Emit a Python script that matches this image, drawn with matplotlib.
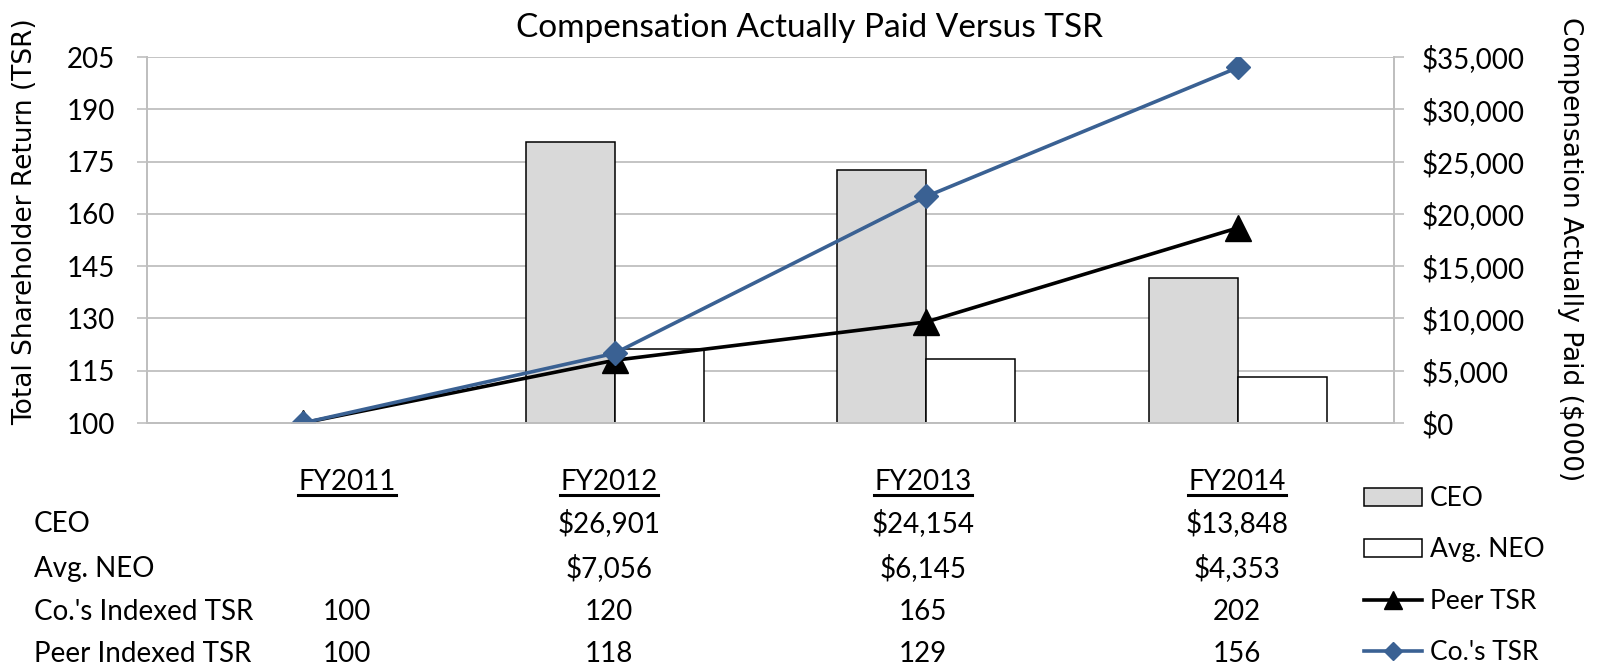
import matplotlib
matplotlib.use("Agg")
import matplotlib.pyplot as plt
import numpy as np
from matplotlib.patches import Patch
from matplotlib.lines import Line2D
from matplotlib.ticker import FuncFormatter

# chart data
years = ["FY2011", "FY2012", "FY2013", "FY2014"]
ceo_pay = [np.nan, 26901, 24154, 13848]
neo_pay = [np.nan, 7056, 6145, 4353]
co_tsr = [100, 120, 165, 202]
peer_tsr = [100, 118, 129, 156]

# table below the chart
table_rows = ["CEO", "Avg. NEO", "Co.'s Indexed TSR", "Peer Indexed TSR"]
table_cells = [
    ["", "$26,901", "$24,154", "$13,848"],
    ["", "$7,056", "$6,145", "$4,353"],
    ["100", "120", "165", "202"],
    ["100", "118", "129", "156"],
]

tsr_ticks = [100, 115, 130, 145, 160, 175, 190, 205]
pay_ticks = [0, 5000, 10000, 15000, 20000, 25000, 30000, 35000]

BLUE = "#3A6193"
GRID = "#BFBFBF"
FONT = "Lato"
W, H = 1599, 667

fig = plt.figure(figsize=(W / 100, H / 100), dpi=100)
ax = fig.add_axes([147 / W, 1 - 423 / H, (1394 - 147) / W, (423 - 57) / H])
ax2 = ax.twinx()
ax.set_zorder(ax2.get_zorder() + 1)
ax.patch.set_visible(False)

x = np.arange(len(years))
bw = 1 / 1.75 / 2

# bars on the secondary (right) axis
ax2.bar(x - bw / 2, ceo_pay, bw, color="#D9D9D9", edgecolor="black", linewidth=1.1)
ax2.bar(x + bw / 2, neo_pay, bw, color="white", edgecolor="black", linewidth=1.1)
ax2.set_ylim(0, 35000)
ax2.set_yticks(pay_ticks)
ax2.yaxis.set_major_formatter(FuncFormatter(lambda v, p: f"${v:,.0f}"))
ax2.set_axisbelow(True)
ax2.grid(axis="y", color=GRID, linewidth=1.3)

# TSR lines on the primary (left) axis
ax.plot(x, peer_tsr, color="black", linewidth=2.6, marker="^", markersize=19,
        markerfacecolor="black", markeredgecolor="black")
ax.plot(x, co_tsr, color=BLUE, linewidth=2.6, marker="D", markersize=12.5,
        markerfacecolor=BLUE, markeredgecolor=BLUE)
ax.set_ylim(100, 205)
ax.set_yticks(tsr_ticks)
ax.set_xlim(-0.5, 3.5)
ax.set_xticks([])
ax2.set_xticks([])

for a in (ax, ax2):
    for s in a.spines.values():
        s.set_color(GRID)
        s.set_linewidth(1.3)
    a.spines["top"].set_visible(False)
    a.tick_params(axis="y", colors=GRID, labelcolor="black", length=7, width=1.2,
                  labelsize=20)
    for lab in a.get_yticklabels():
        lab.set_fontfamily(FONT)
ax.tick_params(axis="y", pad=16)
ax2.tick_params(axis="y", pad=13)

fig.text(25 / W, 1 - 222 / H, "Total Shareholder Return (TSR)", rotation=90,
         ha="center", va="center", fontsize=19, family="DejaVu Sans")
fig.text(1570 / W, 1 - 249 / H, "Compensation Actually Paid ($000)", rotation=270,
         ha="center", va="center", fontsize=19, family="DejaVu Sans")

fig.text(810 / W, 1 - 37 / H, "Compensation Actually Paid Versus TSR",
         ha="center", va="baseline", fontsize=24, family=FONT)

# data table
col_x = [347, 609, 923, 1237]
header_y = 490
row_y = [532, 577, 620, 662]
headers = []
for cx, yr in zip(col_x, years):
    headers.append(fig.text(cx / W, 1 - header_y / H, yr, ha="center", va="baseline",
                            fontsize=20, family=FONT))
for ry, name, cells in zip(row_y, table_rows, table_cells):
    fig.text(34 / W, 1 - ry / H, name, ha="left", va="baseline", fontsize=20,
             family=FONT)
    for cx, val in zip(col_x, cells):
        fig.text(cx / W, 1 - ry / H, val, ha="center", va="baseline", fontsize=20,
                 family=FONT)

# underline the year headers
fig.canvas.draw()
rend = fig.canvas.get_renderer()
for t in headers:
    bb = t.get_window_extent(rend)
    fig.add_artist(Line2D([bb.x0 / W, bb.x1 / W], [1 - 495 / H, 1 - 495 / H],
                          transform=fig.transFigure, color="black", linewidth=2.2))

handles = [
    Patch(facecolor="#D9D9D9", edgecolor="black", linewidth=1.1),
    Patch(facecolor="white", edgecolor="black", linewidth=1.1),
    Line2D([], [], color="black", linewidth=2.6, marker="^", markersize=13),
    Line2D([], [], color=BLUE, linewidth=2.6, marker="D", markersize=9),
]
labels = ["CEO", "Avg. NEO", "Peer TSR", "Co.'s TSR"]
fig.legend(handles, labels, loc="upper left", bbox_to_anchor=(1364 / W, 1 - 486 / H),
           frameon=False, borderpad=0, borderaxespad=0, handlelength=2.2,
           handleheight=0.7, handletextpad=0.3, labelspacing=1.0,
           prop={"family": FONT, "size": 19})

fig.savefig("out.png", dpi=100)
